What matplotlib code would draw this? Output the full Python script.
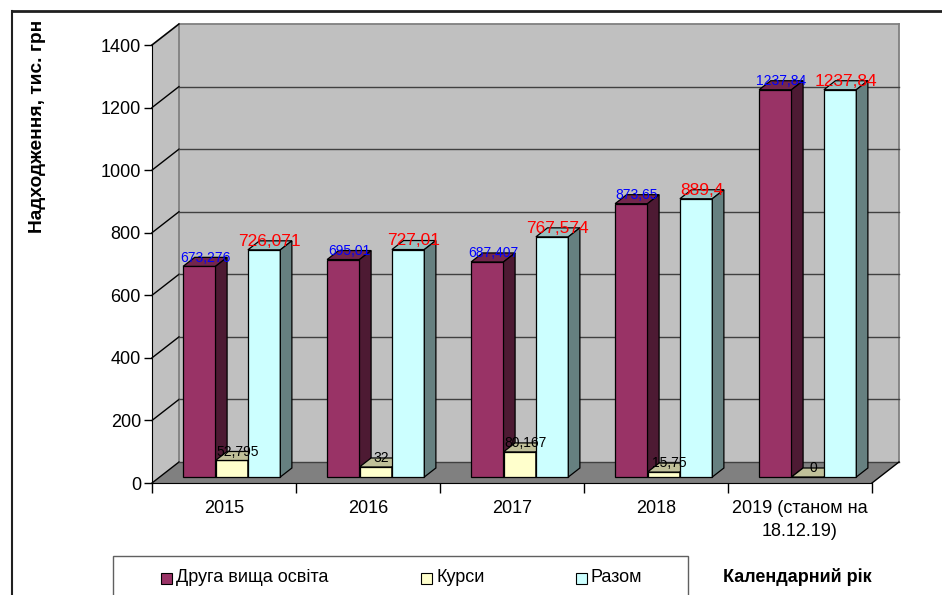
import matplotlib
matplotlib.use("Agg")
import matplotlib.pyplot as plt
from matplotlib.patches import Polygon, Rectangle
from matplotlib.lines import Line2D

plt.rcParams['font.family'] = ['Liberation Sans', 'DejaVu Sans']

# ---------------- data ----------------
categories = ["2015", "2016", "2017", "2018", "2019 (станом на\n18.12.19)"]
series_names = ["Друга вища освіта", "Курси", "Разом"]
druha = [673.276, 695.01, 687.407, 873.65, 1237.84]
kursy = [52.795, 32, 80.167, 15.75, 0]
razom = [726.071, 727.01, 767.574, 889.4, 1237.84]
y_ticks = [0, 200, 400, 600, 800, 1000, 1200, 1400]
y_label = "Надходження, тис. грн"
x_label = "Календарний рік"

series = [druha, kursy, razom]
front_cols = ["#993366", "#ffffcc", "#ccffff"]
top_cols = ["#73264d", "#c0c099", "#99c0c0"]
side_cols = ["#4d1a33", "#808066", "#668080"]
label_cols = ["#0000ff", "#000000", "#ff0000"]
label_sizes = [10, 10, 12.5]

W, H = 942, 595
fig = plt.figure(figsize=(W / 100, H / 100), dpi=100)
ax = fig.add_axes([152 / W, (H - 483) / H, 720 / W, 438 / H])
ncat = len(categories)
ymax = 1400
ax.set_xlim(0, ncat)
ax.set_ylim(0, ymax)

# depth vector in data units
DX = 27 / 144
DY = 21 * ymax / 438
f0, f1 = 6 / 21, 15 / 21
w = 0.225

# walls and floor
wall = "#c0c0c0"
ax.add_patch(Polygon([(0, 0), (DX, DY), (DX, ymax + DY), (0, ymax)], closed=True,
                     fc=wall, ec="none", zorder=0.1, clip_on=False))
ax.add_patch(Polygon([(DX, DY), (ncat + DX, DY), (ncat + DX, ymax + DY), (DX, ymax + DY)],
                     closed=True, fc=wall, ec="none", zorder=0.1, clip_on=False))
ax.add_patch(Polygon([(0, 0), (ncat, 0), (ncat + DX, DY), (DX, DY)], closed=True,
                     fc="#808080", ec="none", zorder=0.2, clip_on=False))
edge = "#808080"
for xs, ys in [([0, DX], [ymax, ymax + DY]),
               ([DX, DX], [DY, ymax + DY]),
               ([DX, ncat + DX], [ymax + DY, ymax + DY]),
               ([ncat + DX, ncat + DX], [DY, ymax + DY])]:
    ax.add_line(Line2D(xs, ys, color=edge, lw=1.3, zorder=0.5, clip_on=False))
for t in y_ticks:
    ax.add_line(Line2D([0, DX], [t, t + DY], color="black", lw=1, zorder=0.6, clip_on=False))
    if t < ymax:
        ax.add_line(Line2D([DX, ncat + DX], [t + DY, t + DY], color="#404040", lw=1,
                           zorder=0.6, clip_on=False))
ax.add_line(Line2D([ncat, ncat + DX], [0, DY], color="black", lw=1, zorder=0.6, clip_on=False))

# bars
d = f1 - f0
for i in range(ncat):
    for j, vals in enumerate(series):
        v = vals[i]
        x0 = i + 0.5 - 1.5 * w + j * w + f0 * DX
        y0 = f0 * DY
        z = 3 + i + j * 0.1
        ax.bar(x0, v, width=w, bottom=y0, align="edge", color=front_cols[j],
               edgecolor="black", lw=0.9, zorder=z)
        ax.add_patch(Polygon([(x0, y0 + v), (x0 + w, y0 + v),
                              (x0 + w + d * DX, y0 + v + d * DY), (x0 + d * DX, y0 + v + d * DY)],
                             closed=True, fc=top_cols[j], ec="black", lw=0.9, zorder=z + 0.01))
        ax.add_patch(Polygon([(x0 + w, y0), (x0 + w + d * DX, y0 + d * DY),
                              (x0 + w + d * DX, y0 + v + d * DY), (x0 + w, y0 + v)],
                             closed=True, fc=side_cols[j], ec="black", lw=0.9, zorder=z + 0.02))
        lab = f"{v:g}".replace(".", ",")
        ax.annotate(lab, (x0 + w / 2 + d * DX / 2, y0 + v + d * DY / 2),
                    xytext=(0, 3), textcoords="offset points", ha="center", va="center",
                    color=label_cols[j], fontsize=label_sizes[j], zorder=20)

# axes
for s in ["top", "right"]:
    ax.spines[s].set_visible(False)
ax.spines["left"].set_color("black")
ax.spines["bottom"].set_color("black")
ax.spines["left"].set_zorder(1)
ax.spines["bottom"].set_zorder(1)
ax.set_yticks(y_ticks)
ax.set_yticklabels([str(t) for t in y_ticks])
ax.tick_params(axis="y", length=6, width=1, pad=2, labelsize=13)
centers = [i + 0.5 for i in range(ncat)]
ax.set_xticks(centers)
ax.set_xticklabels(categories, linespacing=1.45)
ax.tick_params(axis="x", which="major", length=0, pad=12, labelsize=13)
ax.set_xticks(list(range(ncat + 1)), minor=True)
ax.tick_params(axis="x", which="minor", length=7, width=1)
ax.patch.set_visible(False)

# y label
fig.text(38 / W, 1 - 126 / H, y_label, rotation=90, ha="center", va="center",
         fontsize=13.8, fontweight="bold")

# legend box
fig.patches.append(Rectangle((113 / W, -0.1), 575 / W, (H - 556) / H + 0.1,
                             transform=fig.transFigure, fill=False, ec="#606060", lw=1))
leg_marker_x = [161, 421, 576]
leg_text_x = [176, 436, 591]
ly = 1 - 578 / H
for j in range(3):
    fig.patches.append(Rectangle((leg_marker_x[j] / W, ly - 5.5 / H), 11 / W, 11 / H,
                                 transform=fig.transFigure, fc=front_cols[j], ec="black", lw=0.8))
    fig.text(leg_text_x[j] / W, ly, series_names[j], ha="left", va="center", fontsize=13)

fig.text(797 / W, 1 - 577 / H, x_label, ha="center", va="center", fontsize=13, fontweight="bold")

# figure frame lines
fig.add_artist(Line2D([12 / W, 1], [1 - 11 / H, 1 - 11 / H], transform=fig.transFigure,
                      color="#202020", lw=2))
fig.add_artist(Line2D([12 / W, 12 / W], [0, 1 - 11 / H], transform=fig.transFigure,
                      color="#202020", lw=1.5))

fig.savefig("out.png", dpi=100)
